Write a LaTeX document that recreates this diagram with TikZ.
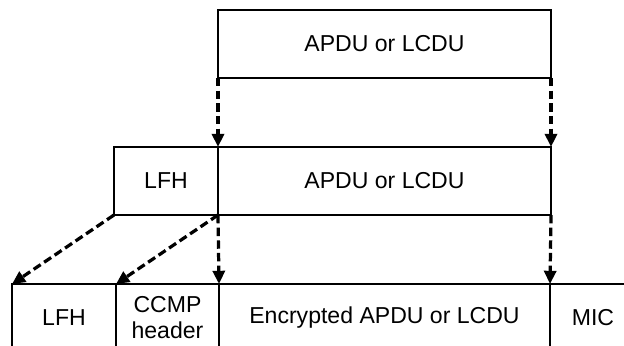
\documentclass[tikz,border=0pt]{standalone}
\usepackage{fontspec}
\setmainfont{Liberation Sans}
\usepackage{tikz}
\usetikzlibrary{arrows.meta, positioning, calc}

\begin{document}
\begin{tikzpicture}[
  >={Triangle[length=3.3mm, width=3mm]},
  field/.style={draw, line width=1pt, inner sep=0pt, outer sep=0pt, minimum height=1.7cm, align=center, font=\fontsize{16.4}{18.5}\selectfont},
  map/.style={->, line width=2.3pt, dash pattern=on 6pt off 3pt}
]
\useasboundingbox (0,0) rectangle (15.6,8.625);
\clip (0,0) rectangle (15.6,8.625);

% upper layer
\node[field, minimum width=8.325cm] (u-apdu) at (9.6125,7.525) {APDU or LCDU};

% framed layer
\node[field, minimum width=2.6cm]   (m-lfh)  at (4.15,4.1)   {LFH};
\node[field, minimum width=8.325cm] (m-apdu) at (9.6125,4.1) {APDU or LCDU};

% secured frame (cut at the bottom)
\node[field, minimum width=2.6cm]   (s-lfh)  at (1.6,0.675)    {LFH};
\node[field, minimum width=2.575cm] (s-ccmp) at (4.1875,0.675) {CCMP\\header};
\node[field, minimum width=8.275cm] (s-enc)  at (9.6125,0.675) {Encrypted APDU or LCDU};
\node[field, minimum width=2.15cm]  (s-mic)  at (14.825,0.675) {MIC};

\draw[map] (u-apdu.south west) -- (m-apdu.north west);
\draw[map] (u-apdu.south east) -- (m-apdu.north east);

\draw[map] (m-lfh.south west)  -- (s-lfh.north west);
\draw[map] (m-lfh.south east)  -- (s-ccmp.north west);
\draw[map] (m-apdu.south west) -- (s-enc.north west);
\draw[map] (m-apdu.south east) -- (s-enc.north east);

\end{tikzpicture}
\end{document}
